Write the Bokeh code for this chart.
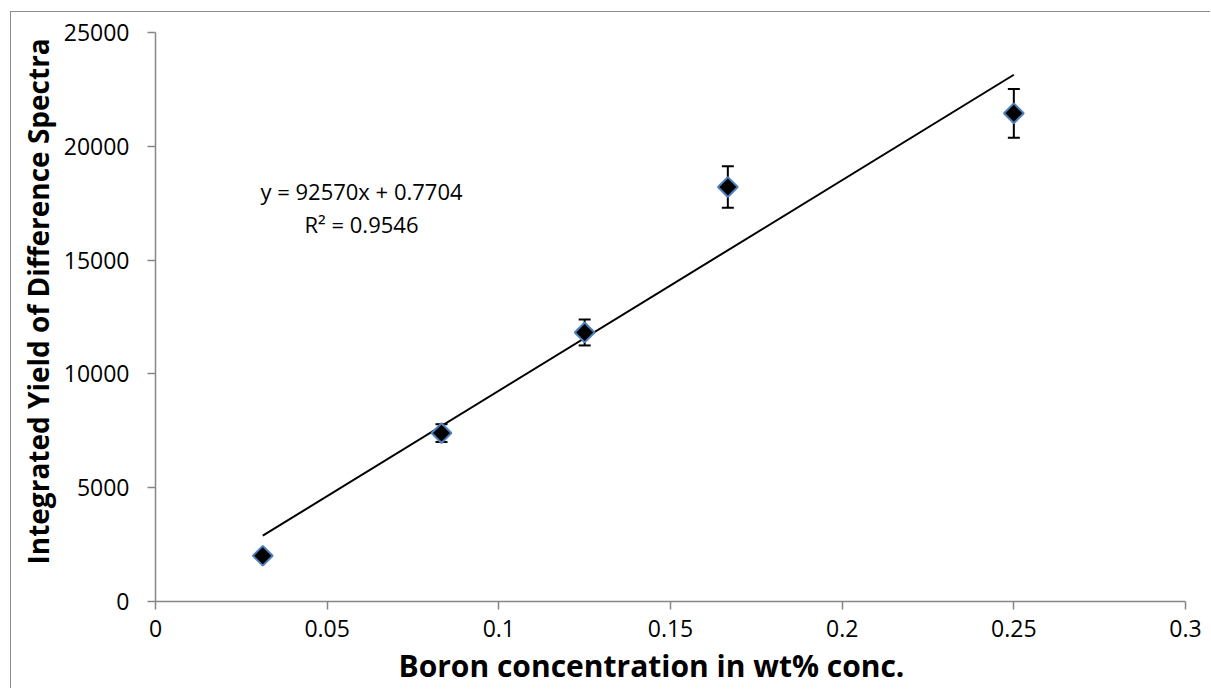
import math
from bokeh.plotting import figure
from bokeh.models import FixedTicker, Whisker, TeeHead, ColumnDataSource, Title
from bokeh.core.properties import value
from bokeh.embed import file_html
from bokeh.resources import INLINE

# ---- data ----
conc = [0.03125, 0.0833, 0.125, 0.1667, 0.25]
yield_vals = [2010, 7400, 11820, 18210, 21450]
yield_err = [0, 390, 570, 910, 1070]
slope = 92570
intercept = 0.7704
eq_text = ["y = 92570x + 0.7704", "R² = 0.9546"]
x_ticks = [0, 0.05, 0.1, 0.15, 0.2, 0.25, 0.3]
x_tick_labels = ["0", "0.05", "0.1", "0.15", "0.2", "0.25", "0.3"]
y_ticks = [0, 5000, 10000, 15000, 20000, 25000]
y_tick_labels = ["0", "5000", "10000", "15000", "20000", "25000"]
x_title = "Boron concentration in wt% conc."
y_title = "Integrated Yield of Difference Spectra"

FONT = "Open Sans"
AXIS_COLOR = "#868686"

p = figure(width=1200, height=677, output_backend="svg", toolbar_location=None,
           x_range=(0, 0.3), y_range=(0, 25000),
           min_border_left=144, min_border_top=20, min_border_right=26, min_border_bottom=87)
p.margin = (11, 0, 0, 10)
p.styles = {"border-left": "1px solid #8c8c8c", "border-top": "1px solid #8c8c8c"}
p.outline_line_color = None
p.grid.visible = False
p.background_fill_color = "white"
p.border_fill_color = "white"

for ax in (p.xaxis[0], p.yaxis[0]):
    ax.axis_line_color = AXIS_COLOR
    ax.axis_line_width = 1.5
    ax.major_tick_line_color = AXIS_COLOR
    ax.major_tick_line_width = 1.5
    ax.major_tick_in = 0
    ax.major_tick_out = 8
    ax.minor_tick_line_color = None
    ax.major_label_text_font = FONT
    ax.major_label_text_font_size = "23px"
    ax.major_label_text_color = "black"

p.xaxis.ticker = FixedTicker(ticks=x_ticks)
p.xaxis.major_label_overrides = {t: l for t, l in zip(x_ticks, x_tick_labels)}
p.yaxis.ticker = FixedTicker(ticks=y_ticks)
p.yaxis.major_label_overrides = {t: l for t, l in zip(y_ticks, y_tick_labels)}
p.xaxis.major_label_standoff = 10
p.yaxis.major_label_standoff = 18

# axis titles (placed like the original, slightly off-centre)
p.add_layout(Title(text=x_title, align="left", offset=243, standoff=7,
                   text_font=FONT, text_font_size="30px", text_font_style="bold",
                   text_color="black"), "below")
p.add_layout(Title(text=y_title, align="left", offset=37, standoff=8,
                   text_font=FONT, text_font_size="28px", text_font_style="bold",
                   text_color="black"), "left")

# trendline
x0, x1 = min(conc), max(conc)
p.line([x0, x1], [slope * x0 + intercept, slope * x1 + intercept],
       line_color="black", line_width=2)

# error bars
src = ColumnDataSource(dict(
    x=conc, y=yield_vals,
    lo=[v - e for v, e in zip(yield_vals, yield_err)],
    hi=[v + e for v, e in zip(yield_vals, yield_err)]))
w = Whisker(source=src, base="x", upper="hi", lower="lo",
            line_color="black", line_width=2,
            upper_head=TeeHead(size=12, line_color="black", line_width=2),
            lower_head=TeeHead(size=12, line_color="black", line_width=2))
p.add_layout(w)

# markers (rotated squares -> diamonds)
p.scatter("x", "y", source=src, marker="square", size=14, angle=math.pi / 4,
          fill_color="black", line_color="#4F81BD", line_width=2)

# equation text
p.text(x=[0.06, 0.06], y=[18050, 16600], text=eq_text,
       text_align="center", text_baseline="middle",
       text_font=value(FONT), text_font_size="22px", text_color="black")

open("out.html", "w").write(file_html(p, INLINE))
